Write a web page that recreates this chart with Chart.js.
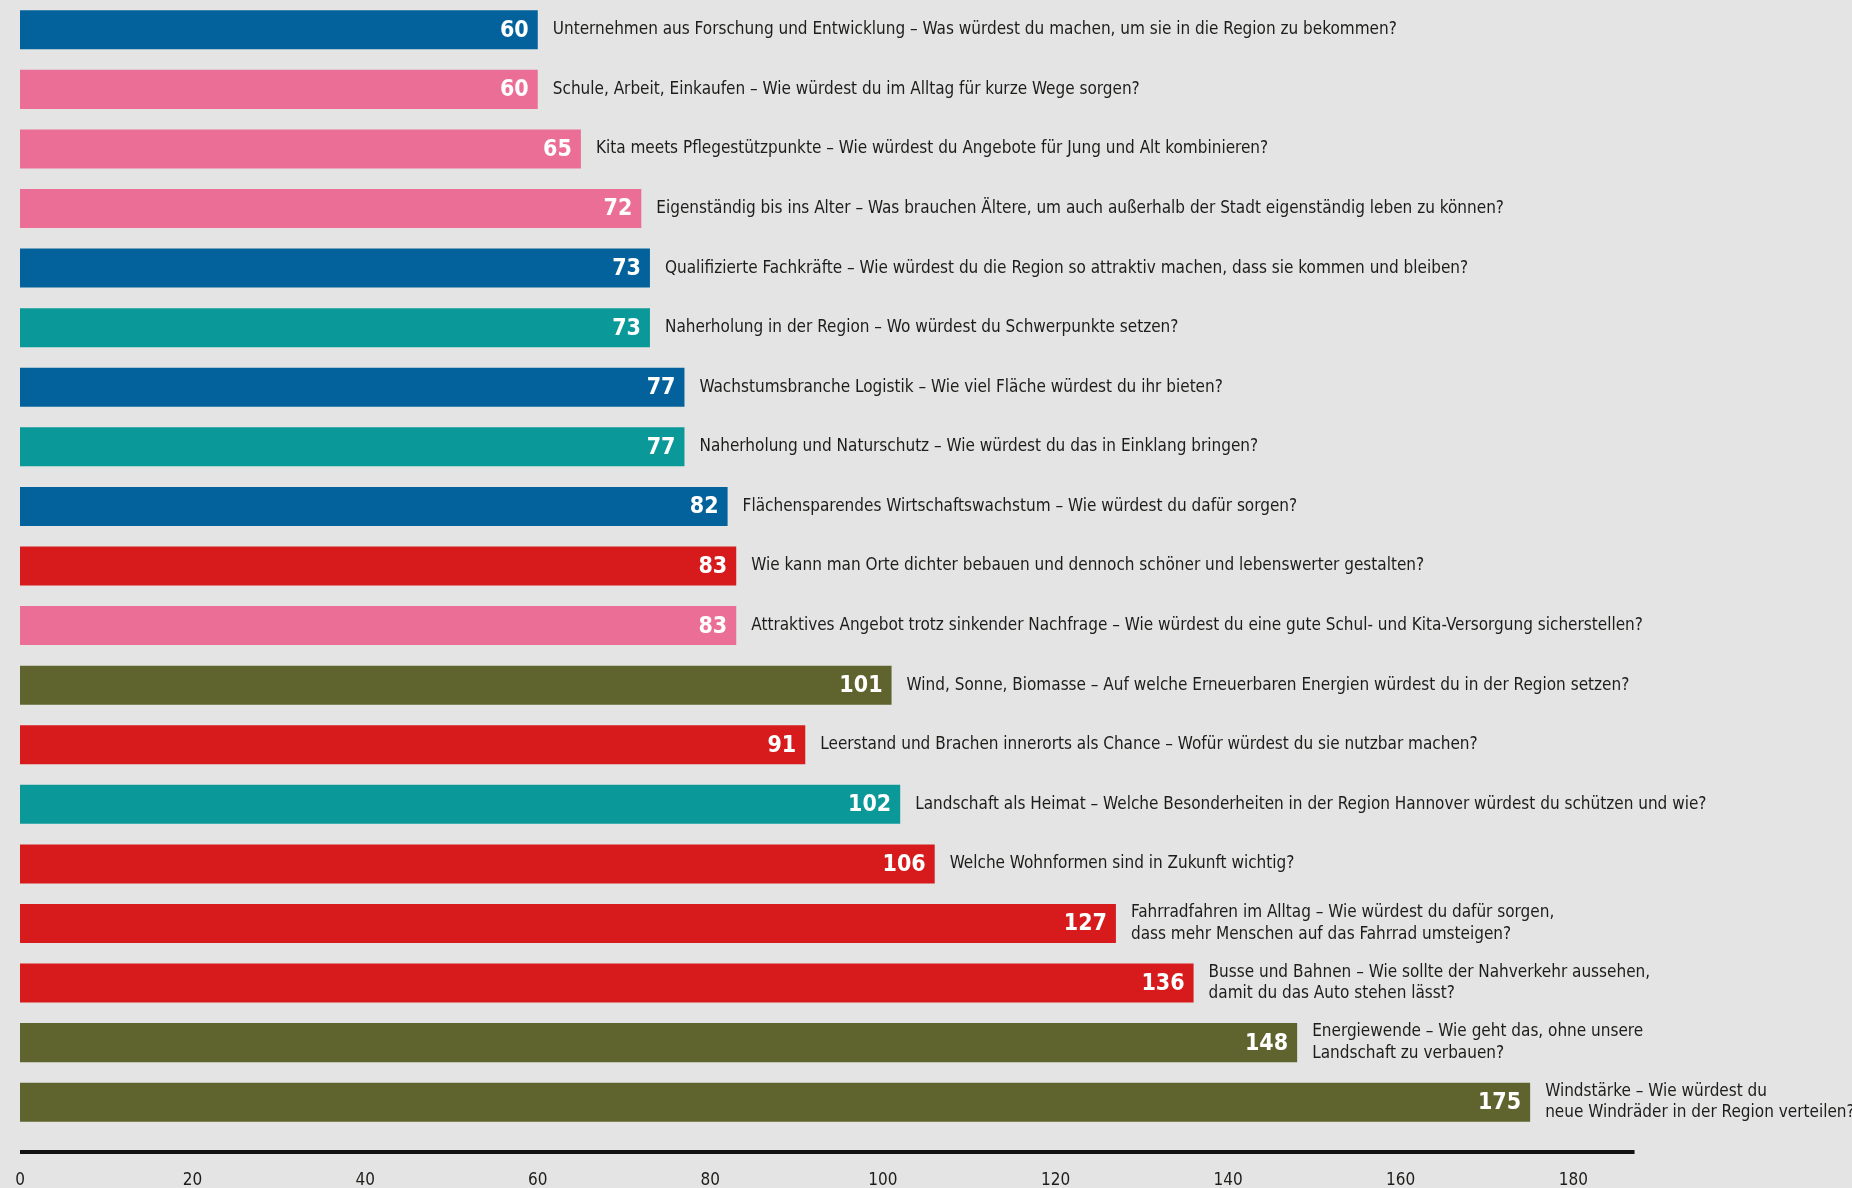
<!DOCTYPE html>
<html>
<head>
<meta charset="utf-8">
<script src="https://cdn.jsdelivr.net/npm/chart.js@4"></script>
<style>
    body { margin: 0; background: #e3e4e3; }
    .chart-container { position: relative; width: 1852px; height: 1188px; }
</style>
</head>
<body>
<div class="chart-container">
    <canvas id="topicChart"></canvas>
</div>

<script>
    // Topics, in the order they appear in the chart (top to bottom)
    const topics = [
        'Unternehmen aus Forschung und Entwicklung – Was würdest du machen, um sie in die Region zu bekommen?',
        'Schule, Arbeit, Einkaufen – Wie würdest du im Alltag für kurze Wege sorgen?',
        'Kita meets Pflegestützpunkte – Wie würdest du Angebote für Jung und Alt kombinieren?',
        'Eigenständig bis ins Alter – Was brauchen Ältere, um auch außerhalb der Stadt eigenständig leben zu können?',
        'Qualifizierte Fachkräfte – Wie würdest du die Region so attraktiv machen, dass sie kommen und bleiben?',
        'Naherholung in der Region – Wo würdest du Schwerpunkte setzen?',
        'Wachstumsbranche Logistik – Wie viel Fläche würdest du ihr bieten?',
        'Naherholung und Naturschutz – Wie würdest du das in Einklang bringen?',
        'Flächensparendes Wirtschaftswachstum – Wie würdest du dafür sorgen?',
        'Wie kann man Orte dichter bebauen und dennoch schöner und lebenswerter gestalten?',
        'Attraktives Angebot trotz sinkender Nachfrage – Wie würdest du eine gute Schul- und Kita-Versorgung sicherstellen?',
        'Wind, Sonne, Biomasse – Auf welche Erneuerbaren Energien würdest du in der Region setzen?',
        'Leerstand und Brachen innerorts als Chance – Wofür würdest du sie nutzbar machen?',
        'Landschaft als Heimat – Welche Besonderheiten in der Region Hannover würdest du schützen und wie?',
        'Welche Wohnformen sind in Zukunft wichtig?',
        ['Fahrradfahren im Alltag – Wie würdest du dafür sorgen,', 'dass mehr Menschen auf das Fahrrad umsteigen?'],
        ['Busse und Bahnen – Wie sollte der Nahverkehr aussehen,', 'damit du das Auto stehen lässt?'],
        ['Energiewende – Wie geht das, ohne unsere', 'Landschaft zu verbauen?'],
        ['Windstärke – Wie würdest du', 'neue Windräder in der Region verteilen?']
    ];

    const votes = [60, 60, 65, 72, 73, 73, 77, 77, 82, 83, 83, 101, 91, 102, 106, 127, 136, 148, 175];

    // theme of each topic
    const themes = ['wirtschaft', 'soziales', 'soziales', 'soziales', 'wirtschaft', 'landschaft', 'wirtschaft',
        'landschaft', 'wirtschaft', 'wohnen', 'soziales', 'energie', 'wohnen', 'landschaft', 'wohnen',
        'wohnen', 'wohnen', 'energie', 'energie'];

    const themeColors = {
        wirtschaft: '#03629b',
        soziales: '#eb6e97',
        landschaft: '#0a9898',
        wohnen: '#d71b1d',
        energie: '#5f642e'
    };

    const xTicks = [0, 20, 40, 60, 80, 100, 120, 140, 160, 180];
    const axisLineEnd = 187.1;

    const fontFamily = "'DejaVu Sans Condensed', 'Liberation Sans Narrow', sans-serif";

    // value inside the bar end, question text right of the bar
    const barTextPlugin = {
        id: 'barText',
        afterDatasetsDraw(chart) {
            const ctx = chart.ctx;
            const meta = chart.getDatasetMeta(0);
            ctx.save();
            ctx.textBaseline = 'middle';
            meta.data.forEach((bar, i) => {
                ctx.fillStyle = '#ffffff';
                ctx.font = 'bold 23px ' + fontFamily;
                ctx.textAlign = 'right';
                ctx.fillText(String(votes[i]), bar.x - 9, bar.y + 1);

                const lines = Array.isArray(topics[i]) ? topics[i] : [topics[i]];
                const lineHeight = 21.5;
                ctx.fillStyle = '#1d1d1b';
                ctx.font = '17px ' + fontFamily;
                ctx.textAlign = 'left';
                lines.forEach((line, k) => {
                    const y = bar.y + (k - (lines.length - 1) / 2) * lineHeight;
                    ctx.fillText(line, bar.x + 15, y);
                });
            });
            ctx.restore();
        }
    };

    // thick baseline below the bars
    const baselinePlugin = {
        id: 'baseline',
        afterDraw(chart) {
            const ctx = chart.ctx;
            const x = chart.scales.x;
            const y = chart.chartArea.bottom + 20;
            ctx.save();
            ctx.strokeStyle = '#111111';
            ctx.lineWidth = 4;
            ctx.beginPath();
            ctx.moveTo(x.getPixelForValue(0), y);
            ctx.lineTo(x.getPixelForValue(axisLineEnd), y);
            ctx.stroke();
            ctx.restore();
        }
    };

    const ctx = document.getElementById('topicChart').getContext('2d');
    new Chart(ctx, {
        type: 'bar',
        data: {
            labels: topics,
            datasets: [{
                data: votes,
                backgroundColor: themes.map(t => themeColors[t]),
                borderWidth: 0,
                barPercentage: 0.655,
                categoryPercentage: 1
            }]
        },
        options: {
            indexAxis: 'y',
            responsive: true,
            maintainAspectRatio: false,
            animation: false,
            layout: {
                padding: { left: 20, right: 0, top: 0, bottom: 0 }
            },
            scales: {
                x: {
                    min: 0,
                    max: 212.3,
                    grid: { display: false, drawTicks: false },
                    border: { display: false },
                    afterBuildTicks: axis => {
                        axis.ticks = xTicks.map(v => ({ value: v }));
                    },
                    afterFit: axis => {
                        // keep the plot area tight; labels sit under the baseline
                        axis.height = 56;
                        axis.paddingLeft = 0;
                        axis.paddingRight = 0;
                    },
                    ticks: {
                        padding: 38,
                        color: '#1d1d1b',
                        font: { family: fontFamily, size: 17 }
                    }
                },
                y: {
                    display: false
                }
            },
            plugins: {
                legend: { display: false },
                tooltip: { enabled: false }
            }
        },
        plugins: [barTextPlugin, baselinePlugin]
    });
</script>
</body>
</html>
